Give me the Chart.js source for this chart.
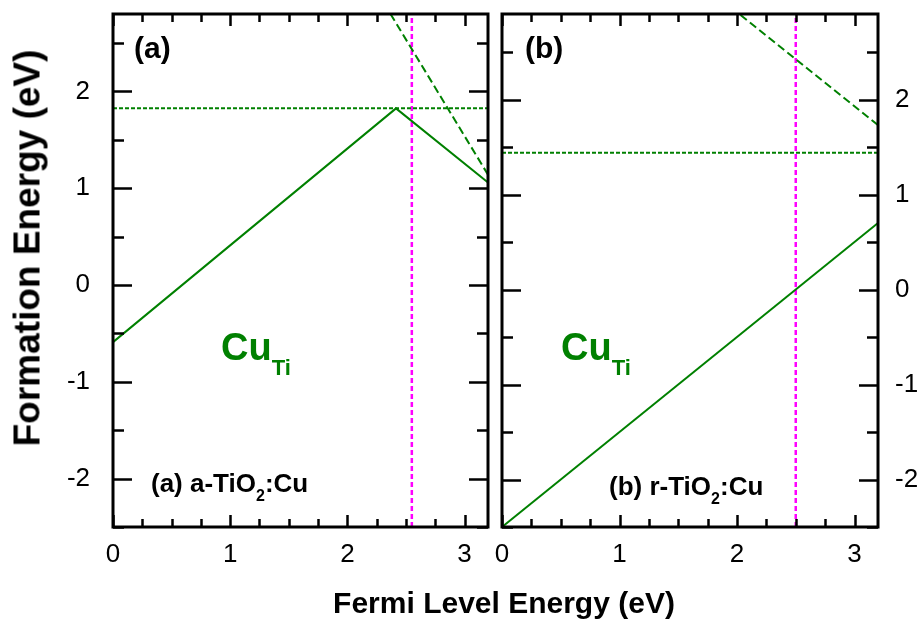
<!DOCTYPE html>
<html>
<head>
<meta charset="utf-8">
<script src="https://cdn.jsdelivr.net/npm/chart.js@4.4.1/dist/chart.umd.min.js"></script>
<style>
  body { margin: 0; background: #fff; }
  #wrap { position: relative; width: 924px; height: 621px; overflow: hidden;
          font-family: "Liberation Sans", Arial, sans-serif; }
  #wrap canvas { position: absolute; left: 0; top: 0; }
  .lbl { position: absolute; white-space: nowrap; line-height: 1; font-weight: bold; color: #000; }
  .green { color: #008000; }
  .sub { position: relative; }
</style>
</head>
<body>
<div id="wrap">
  <canvas id="panelA" width="924" height="621"></canvas>
  <canvas id="panelB" width="924" height="621"></canvas>

  <div class="lbl" style="left:27px; top:248px; font-size:37px; transform: translate(-50%,-50%) rotate(-90deg);">Formation Energy (eV)</div>
  <div class="lbl" style="left:504px; top:603px; font-size:30px; transform: translate(-50%,-50%);">Fermi Level Energy (eV)</div>

  <div class="lbl" style="left:134px; top:33px; font-size:30px;">(a)</div>
  <div class="lbl" style="left:525px; top:33px; font-size:30px;">(b)</div>

  <div class="lbl green" style="left:221px; top:328px; font-size:38px;">Cu<span class="sub" style="font-size:22px; top:15px;">Ti</span></div>
  <div class="lbl green" style="left:561px; top:328px; font-size:38px;">Cu<span class="sub" style="font-size:22px; top:15px;">Ti</span></div>

  <div class="lbl" style="left:151px; top:470px; font-size:26px;">(a) a-TiO<span class="sub" style="font-size:16px; top:9px;">2</span>:Cu</div>
  <div class="lbl" style="left:609px; top:473px; font-size:26px;">(b) r-TiO<span class="sub" style="font-size:16px; top:9px;">2</span>:Cu</div>
</div>

<script>
// axes
const xTicks = [0, 1, 2, 3];
const yTicks = [-2, -1, 0, 1, 2];
const xRange = [0, 3.2];
const yRangeA = [-2.5, 2.8];
const yRangeB = [-2.5, 2.9];

// (a) a-TiO2:Cu
const aLineX = [0, 2.415, 3.2];
const aLineY = [-0.59, 1.825, 1.06];
const aFlatY = 1.825;
const aSteepX = [2.368, 3.2];
const aSteepY = [2.80, 1.14];
const aGap = 2.55;

// (b) r-TiO2:Cu
const bLineX = [0, 3.2];
const bLineY = [-2.5, 0.70];
const bFlatY = 1.44;
const bSteepX = [2.03, 3.2];
const bSteepY = [2.89, 1.73];
const bGap = 2.50;

const GREEN = '#008000';
const MAGENTA = '#ff00ff';
const FONT = '"Liberation Sans", Arial, sans-serif';

function pts(xs, ys) {
    return xs.map((x, i) => ({ x: x, y: ys[i] }));
}

// frame + inward ticks on all four sides
const frameTicks = {
    id: 'frameTicks',
    afterDatasetsDraw(chart, args, opts) {
        const { ctx, chartArea: a, scales } = chart;
        const x = scales.x, y = scales.y;
        ctx.save();
        ctx.strokeStyle = '#000';
        ctx.lineWidth = 2.5;
        ctx.beginPath();
        for (let v = xRange[0]; v <= xRange[1] + 1e-9; v += opts.xMinor) {
            const px = Math.round(x.getPixelForValue(v)) + 0.5;
            const major = Math.abs(v - Math.round(v)) < 1e-6;
            const len = major ? 12 : 8;
            ctx.moveTo(px, a.bottom); ctx.lineTo(px, a.bottom - len);
            ctx.moveTo(px, a.top); ctx.lineTo(px, a.top + len);
        }
        for (let v = Math.ceil(y.min * 2) / 2; v <= y.max + 1e-9; v += opts.yMinor) {
            const py = Math.round(y.getPixelForValue(v)) + 0.5;
            const major = Math.abs(v - Math.round(v)) < 1e-6;
            const len = major ? 19 : 11;
            ctx.moveTo(a.left, py); ctx.lineTo(a.left + len, py);
            ctx.moveTo(a.right, py); ctx.lineTo(a.right - len, py);
        }
        ctx.stroke();
        ctx.lineWidth = 3;
        ctx.strokeRect(a.left, a.top, a.right - a.left, a.bottom - a.top);
        ctx.restore();
    }
};

function makePanel(id, p) {
    const yMin = p.yRange[0], yMax = p.yRange[1];
    const datasets = [
        { data: pts(p.lineX, p.lineY), borderColor: GREEN, borderWidth: 2 },
        { data: pts(xRange, [p.flatY, p.flatY]), borderColor: GREEN, borderWidth: 2, borderDash: [4, 2] },
        { data: pts(p.steepX, p.steepY), borderColor: GREEN, borderWidth: 2, borderDash: [8, 4] },
        { data: pts([p.gap, p.gap], [yMin, yMax]), borderColor: MAGENTA, borderWidth: 2.5, borderDash: [5, 3] }
    ].map(d => Object.assign({ showLine: true, pointRadius: 0, fill: false, tension: 0 }, d));

    return new Chart(document.getElementById(id), {
        type: 'scatter',
        data: { datasets: datasets },
        options: {
            responsive: false,
            animation: false,
            devicePixelRatio: 1,
            layout: { padding: p.padding },
            plugins: {
                legend: { display: false },
                tooltip: { enabled: false },
                frameTicks: { xMinor: 0.25, yMinor: 0.5 }
            },
            scales: {
                x: {
                    type: 'linear',
                    min: xRange[0],
                    max: xRange[1],
                    afterBuildTicks: s => { s.ticks = xTicks.map(v => ({ value: v })); },
                    afterFit: s => { s.height = 53; s.paddingLeft = 0; s.paddingRight = 0; },
                    grid: { display: false, drawTicks: false },
                    border: { display: false },
                    ticks: { color: '#000', padding: 12, maxRotation: 0, font: { family: FONT, size: 26 } }
                },
                y: {
                    type: 'linear',
                    position: p.side,
                    min: yMin,
                    max: yMax,
                    afterBuildTicks: s => { s.ticks = yTicks.map(v => ({ value: v })); },
                    afterFit: s => { s.width = p.yWidth; s.paddingTop = 0; s.paddingBottom = 0; },
                    grid: { display: false, drawTicks: false },
                    border: { display: false },
                    ticks: { color: '#000', padding: p.yPad, font: { family: FONT, size: 26 } }
                }
            }
        },
        plugins: [frameTicks]
    });
}

makePanel('panelA', {
    lineX: aLineX, lineY: aLineY, flatY: aFlatY, steepX: aSteepX, steepY: aSteepY, gap: aGap,
    yRange: yRangeA, side: 'left', yWidth: 53, yPad: 23,
    padding: { left: 60, right: 436, top: 14, bottom: 41 }
});

makePanel('panelB', {
    lineX: bLineX, lineY: bLineY, flatY: bFlatY, steepX: bSteepX, steepY: bSteepY, gap: bGap,
    yRange: yRangeB, side: 'right', yWidth: 46, yPad: 17,
    padding: { left: 502, right: 0, top: 14, bottom: 41 }
});
</script>
</body>
</html>
